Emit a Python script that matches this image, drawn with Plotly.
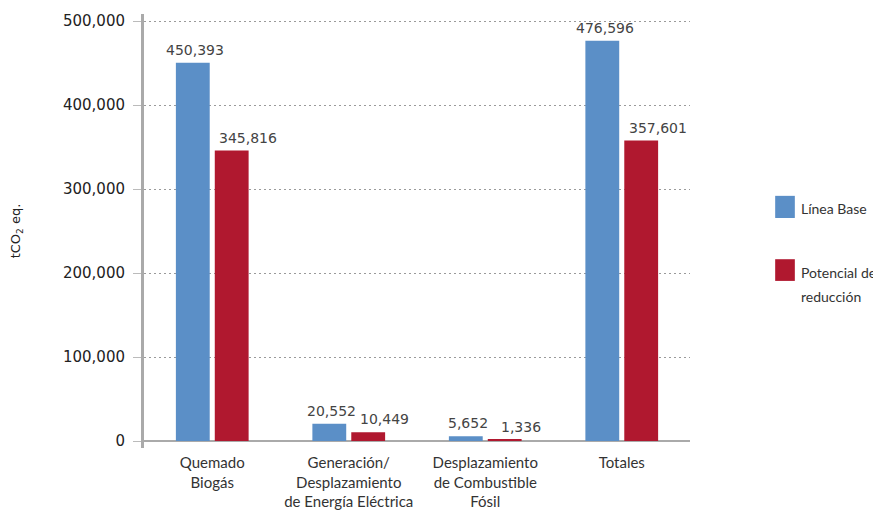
import plotly.graph_objects as go

categories = [
    "Quemado<br>Biogás",
    "Generación/<br>Desplazamiento<br>de Energía Eléctrica",
    "Desplazamiento<br>de Combustible<br>Fósil",
    "Totales",
]
linea_base = [450393, 20552, 5652, 476596]
potencial_reduccion = [345816, 10449, 1336, 357601]
y_ticks = [0, 100000, 200000, 300000, 400000, 500000]

BLUE = "#5B8FC7"
RED = "#B0182F"

fig = go.Figure()

series = [
    ("Línea Base", linea_base, BLUE, -17),
    ("Potencial de reducción", potencial_reduccion, RED, 36),
]
for name, values, color, label_shift in series:
    fig.add_trace(
        go.Bar(
            x=categories,
            y=values,
            name=name,
            marker=dict(color=color, line=dict(width=0)),
            showlegend=False,
        )
    )
    # value labels above the bars
    for cat, v in zip(categories, values):
        fig.add_annotation(
            x=cat, y=v, text=f"{v:,}", showarrow=False,
            xshift=label_shift, yshift=3, yanchor="bottom",
            font=dict(family="DejaVu Sans", size=14, color="#444"),
        )

# manual legend at the right (the page body adds an 8px offset)
fig.add_shape(type="rect", xref="paper", yref="paper",
              x0=1.156, x1=1.192, y0=0.530, y1=0.581,
              fillcolor=BLUE, line=dict(width=0))
fig.add_shape(type="rect", xref="paper", yref="paper",
              x0=1.156, x1=1.192, y0=0.385, y1=0.435,
              fillcolor=RED, line=dict(width=0))
for text, ypos in [("Línea Base", 0.551), ("Potencial de", 0.4055), ("reducción", 0.350)]:
    fig.add_annotation(
        xref="paper", yref="paper", x=1.2, y=ypos,
        xanchor="left", yanchor="middle", align="left",
        text=text, showarrow=False,
        font=dict(family="Lato", size=14, color="#333"),
    )

fig.update_layout(
    width=873,
    height=505,
    barmode="group",
    bargap=0.43,
    bargroupgap=0.13,
    plot_bgcolor="white",
    paper_bgcolor="white",
    margin=dict(l=136, r=191, t=6, b=65, autoexpand=False),
    xaxis=dict(
        automargin=False,
        showline=False,
        showgrid=False,
        tickfont=dict(family="Lato", size=15, color="#333"),
        ticks="",
        ticklabelstandoff=4,
    ),
    yaxis=dict(
        automargin=False,
        range=[-8333, 508333],
        tickvals=y_ticks,
        tickformat=",d",
        tickfont=dict(family="DejaVu Sans", size=15, color="#222"),
        showline=True,
        linecolor="#aaaaaa",
        linewidth=3,
        showgrid=True,
        gridcolor="#9a9a9a",
        griddash="2px,3px",
        gridwidth=1,
        zeroline=True,
        zerolinecolor="#aaaaaa",
        zerolinewidth=2,
        ticks="outside",
        ticklen=8,
        tickcolor="#bbbbbb",
        ticklabelstandoff=5,
        title=dict(
            text="tCO<sub>2</sub> eq.",
            font=dict(family="DejaVu Sans", size=13, color="#222"),
            standoff=50,
        ),
    ),
)

fig.write_html("out.html")
